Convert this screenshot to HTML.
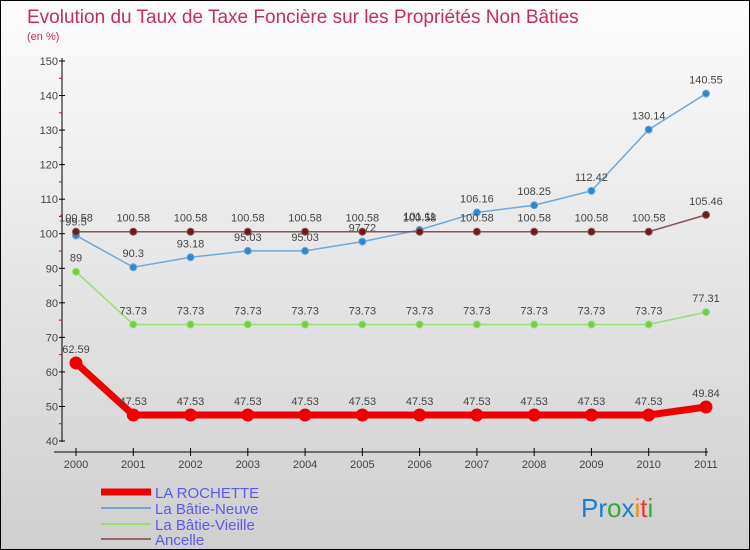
<!DOCTYPE html>
<html><head><meta charset="utf-8"><style>
body{margin:0}
#c{width:748px;height:548px;border:1px solid #000;background:linear-gradient(#fcfcfc,#cfcfcf);position:relative;font-family:"Liberation Sans",sans-serif;overflow:hidden}
</style></head><body>
<div id="c">
<svg width="748" height="548" id="s" style="position:absolute;left:0;top:0">
<text x="26" y="22" font-size="19" fill="#c0305a">Evolution du Taux de Taxe Foncière sur les Propriétés Non Bâties</text>
<text x="26" y="39" font-size="11" fill="#c0305a">(en %)</text>
<g id="axes"></g><g id="series"></g>
<g font-size="15" fill="#5a5aee">
<line x1="100" y1="491" x2="150" y2="491" stroke="#e00" stroke-width="7"/>
<text x="154" y="497">LA ROCHETTE</text>
<line x1="100" y1="507" x2="150" y2="507" stroke="#6fa8d6" stroke-width="2"/>
<text x="154" y="513">La Bâtie-Neuve</text>
<line x1="100" y1="523" x2="150" y2="523" stroke="#99dd77" stroke-width="2"/>
<text x="154" y="529">La Bâtie-Vieille</text>
<line x1="100" y1="538" x2="150" y2="538" stroke="#996666" stroke-width="2"/>
<text x="154" y="544">Ancelle</text>
</g>
<text x="580" y="516" font-size="26" font-family="Liberation Sans"><tspan fill="#1a7fd0">Pr</tspan><tspan fill="#3a3">o</tspan><tspan fill="#1a7fd0">x</tspan><tspan fill="#f80">i</tspan><tspan fill="#e33">t</tspan><tspan fill="#3a3">i</tspan></text>
</svg></div>
<script>
const years=["2000","2001","2002","2003","2004","2005","2006","2007","2008","2009","2010","2011"];
const rochette=[62.59,47.53,47.53,47.53,47.53,47.53,47.53,47.53,47.53,47.53,47.53,49.84];
const batieNeuve=[99.5,90.3,93.18,95.03,95.03,97.72,101.11,106.16,108.25,112.42,130.14,140.55];
const batieVieille=[89,73.73,73.73,73.73,73.73,73.73,73.73,73.73,73.73,73.73,73.73,77.31];
const ancelle=[100.58,100.58,100.58,100.58,100.58,100.58,100.58,100.58,100.58,100.58,100.58,105.46];
const yTicks=[40,50,60,70,80,90,100,110,120,130,140,150];
const NS="http://www.w3.org/2000/svg";
const X=i=>75+i*57.27, Y=v=>440-(v-40)*3.4545;
function mk(p,t,a){const e=document.createElementNS(NS,t);for(const k in a)e.setAttribute(k,a[k]);p.appendChild(e);return e;}
const ax=document.getElementById('axes'), sr=document.getElementById('series');
let l=mk(ax,'line',{x1:61,y1:57,x2:61,y2:441,stroke:'#000'});


l=mk(ax,'line',{x1:53,y1:451,x2:707,y2:451,stroke:'#000'});


yTicks.forEach(v=>{
 mk(ax,'line',{x1:58,y1:Y(v),x2:64,y2:Y(v),stroke:'#000'});
 if(v<150) mk(ax,'line',{x1:58,y1:Y(v+5),x2:61,y2:Y(v+5),stroke:'#e00'});
 const t=mk(ax,'text',{x:57,y:Y(v)+4,'text-anchor':'end','font-size':11,fill:'#444'});
 t.textContent=v;
 
 
});
years.forEach((y,i)=>{
 mk(ax,'line',{x1:X(i),y1:447,x2:X(i),y2:455,stroke:'#000'});
 const t=mk(ax,'text',{x:X(i),y:467,'text-anchor':'middle','font-size':11,fill:'#444'});
 t.textContent=y;
 
 
});
function series(d,name,col,dot,w,r){
 const g=mk(sr,'g',{});
 
 
 const p=mk(g,'polyline',{points:d.map((v,i)=>X(i)+','+Y(v)).join(' '),fill:'none',stroke:col,'stroke-width':w});
 
 
 d.forEach((v,i)=>{
  const c=mk(g,'circle',{cx:X(i),cy:Y(v),r:r,fill:dot,stroke:col,'stroke-width':1});
  
  
  const t=mk(g,'text',{x:X(i),y:Y(v)-10,'text-anchor':'middle','font-size':11,fill:'#444'});
  t.textContent=v;
  
  
 });
}
series(batieVieille,'la-batie-vieille','#99dd77','#77cc44',1.5,3.5);
series(batieNeuve,'la-batie-neuve','#6fa8d6','#2f86cc',1.5,3.5);
series(ancelle,'ancelle','#885555','#6a1a1a',1.5,3.5);
series(rochette,'la-rochette','#e00','#e00',7,6);
</script>
</body></html>
